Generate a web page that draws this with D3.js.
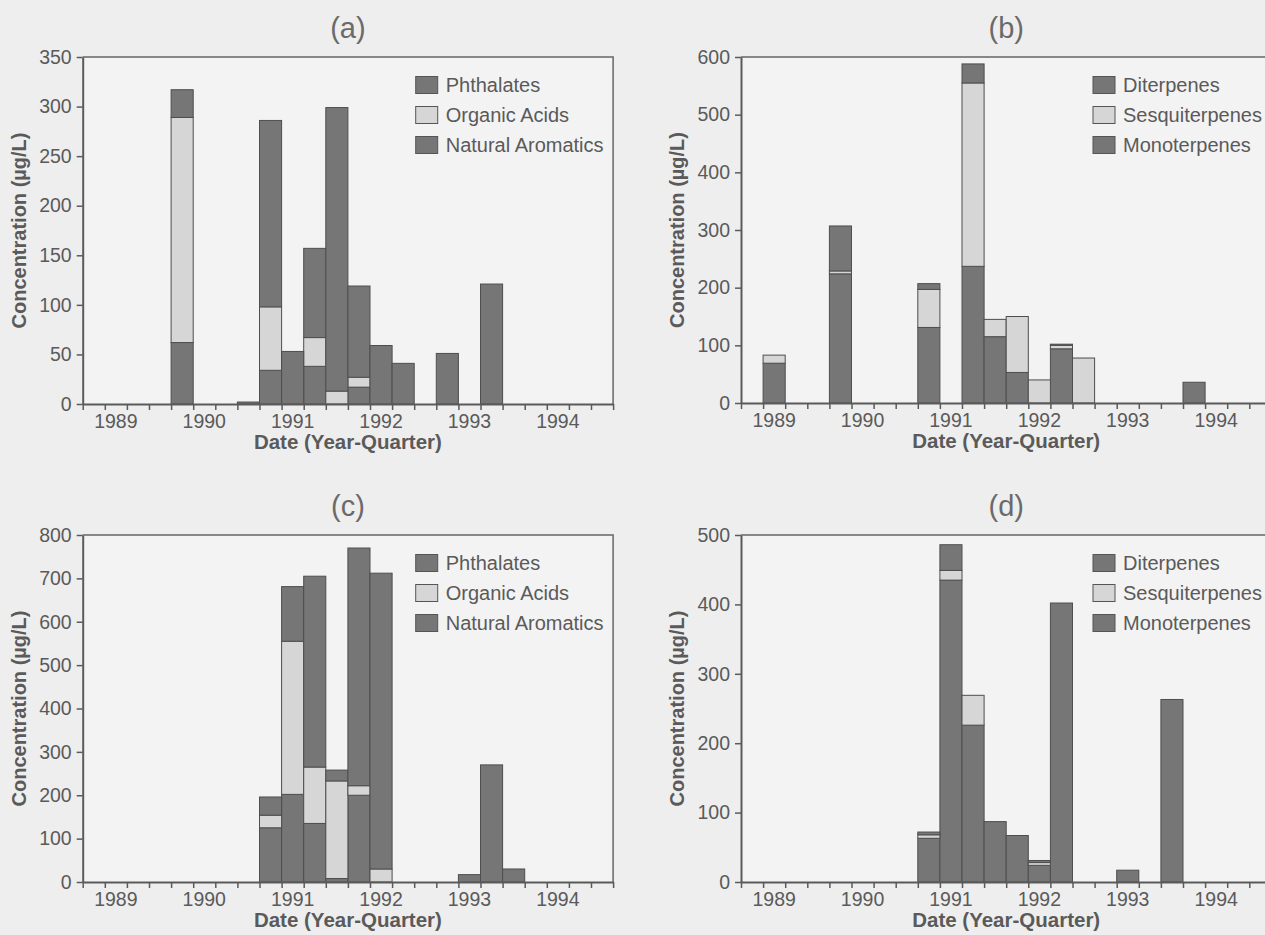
<!DOCTYPE html>
<html>
<head>
<meta charset="utf-8">
<script src="https://cdn.jsdelivr.net/npm/d3@7"></script>
<style>
  body { margin: 0; background: #eeeeee; }
  svg { display: block; font-family: "Liberation Sans", Arial, sans-serif; }
</style>
</head>
<body>
<div id="chart"></div>
<script>
// quarters on the x axis (one band each)
var quarters = [
  "1988 Q4",
  "1989 Q1", "1989 Q2", "1989 Q3", "1989 Q4",
  "1990 Q1", "1990 Q2", "1990 Q3", "1990 Q4",
  "1991 Q1", "1991 Q2", "1991 Q3", "1991 Q4",
  "1992 Q1", "1992 Q2", "1992 Q3", "1992 Q4",
  "1993 Q1", "1993 Q2", "1993 Q3", "1993 Q4",
  "1994 Q1", "1994 Q2", "1994 Q3"
];
var yearTicks = ["1989 Q1", "1990 Q1", "1991 Q1", "1992 Q1", "1993 Q1", "1994 Q1"];

var groupA = ["Phthalates", "Organic Acids", "Natural Aromatics"];
var groupB = ["Diterpenes", "Sesquiterpenes", "Monoterpenes"];

// (a)
var aNatural = [0,0,0,0,62,0,0,0,34,0,38,0,17,0,0,0,0,0,0,0,0,0,0,0];
var aOrganic = [0,0,0,0,227,0,0,0,64,0,29,13,10,0,0,0,0,0,0,0,0,0,0,0];
var aPhthal  = [0,0,0,0,28,0,0,2,188,53,90,286,92,59,41,0,51,0,121,0,0,0,0,0];
// (b)
var bMono = [0,69,0,0,224,0,0,0,131,0,237,115,53,0,94,0,0,0,0,0,36,0,0,0];
var bSesq = [0,14,0,0,5,0,0,0,66,0,318,30,97,40,6,78,0,0,0,0,0,0,0,0];
var bDi   = [0,0,0,0,78,0,0,0,10,0,33,0,0,0,2,0,0,0,0,0,0,0,0,0];
// (c)
var cNatural = [0,0,0,0,0,0,0,0,125,202,135,8,200,0,0,0,0,0,0,0,0,0,0,0];
var cOrganic = [0,0,0,0,0,0,0,0,29,353,130,225,22,30,0,0,0,0,0,0,0,0,0,0];
var cPhthal  = [0,0,0,0,0,0,0,0,42,126,440,25,548,682,0,0,0,17,270,30,0,0,0,0];
// (d)
var dMono = [0,0,0,0,0,0,0,0,63,435,226,87,67,24,402,0,0,17,0,263,0,0,0,0];
var dSesq = [0,0,0,0,0,0,0,0,5,14,43,0,0,4,0,0,0,0,0,0,0,0,0,0];
var dDi   = [0,0,0,0,0,0,0,0,4,37,0,0,0,3,0,0,0,0,0,0,0,0,0,0];

var dark = "#767676", light = "#d6d6d6", ink = "#5a5a5a";

var width = 1265, height = 935;
var svg = d3.select("#chart").append("svg")
  .attr("width", width)
  .attr("height", height);

var panels = [
  { label: "(a)", left: 82.7, top: 57, bottom: 404, yMax: 350, step: 50,
    names: groupA, values: [aPhthal, aOrganic, aNatural] },
  { label: "(b)", left: 741, top: 57, bottom: 403, yMax: 600, step: 100,
    names: groupB, values: [bDi, bSesq, bMono] },
  { label: "(c)", left: 82.7, top: 535, bottom: 882, yMax: 800, step: 100,
    names: groupA, values: [cPhthal, cOrganic, cNatural] },
  { label: "(d)", left: 741, top: 535, bottom: 882, yMax: 500, step: 100,
    names: groupB, values: [dDi, dSesq, dMono] }
];

var slotW = 22.1;
var colors = [dark, light, dark]; // top, middle, bottom (legend order)

panels.forEach(function(p) {
  var w = slotW * quarters.length;
  var h = p.bottom - p.top;
  var g = svg.append("g").attr("transform", `translate(${p.left},${p.top})`);

  var x = d3.scaleBand().domain(quarters).range([0, w]).padding(0);
  var xEdge = d3.scaleLinear().domain([0, quarters.length]).range([0, w]);
  var y = d3.scaleLinear().domain([0, p.yMax]).range([h, 0]);

  g.append("rect")
    .attr("width", w).attr("height", h)
    .attr("fill", "#f3f3f3");

  // stacked bars, bottom series first
  var keys = [p.names[2], p.names[1], p.names[0]];
  var rows = quarters.map(function(q, i) {
    var r = { q: q };
    r[p.names[0]] = p.values[0][i];
    r[p.names[1]] = p.values[1][i];
    r[p.names[2]] = p.values[2][i];
    return r;
  });
  var stacked = d3.stack().keys(keys)(rows);
  var fillOf = {};
  fillOf[p.names[0]] = colors[0];
  fillOf[p.names[1]] = colors[1];
  fillOf[p.names[2]] = colors[2];

  g.append("g")
    .selectAll("g")
    .data(stacked)
    .enter()
    .append("g")
    .attr("fill", d => fillOf[d.key])
    .selectAll("rect")
    .data(d => d.filter(s => s[1] - s[0] > 0))
    .enter()
    .append("rect")
    .attr("x", d => x(d.data.q))
    .attr("width", x.bandwidth())
    .attr("y", d => y(d[1]))
    .attr("height", d => y(d[0]) - y(d[1]))
    .attr("stroke", "#4e4e4e")
    .attr("stroke-width", 1);

  // frame top and right
  g.append("path")
    .attr("d", `M0,0H${w}V${h}`)
    .attr("fill", "none")
    .attr("stroke", "#666")
    .attr("stroke-width", 1.5);

  // left axis
  var ya = g.append("g")
    .call(d3.axisLeft(y)
      .tickValues(d3.range(0, p.yMax + 1, p.step))
      .tickSize(6).tickSizeOuter(0).tickPadding(5))
    .attr("font-family", null).attr("font-size", null);
  ya.selectAll("text").attr("font-size", 19.5).attr("fill", ink);
  ya.selectAll("line").attr("stroke", ink).attr("stroke-width", 1.5);
  ya.select(".domain").attr("stroke", ink).attr("stroke-width", 2);

  // quarter ticks on bottom
  var xa = g.append("g")
    .attr("transform", `translate(0,${h})`)
    .call(d3.axisBottom(xEdge)
      .tickValues(d3.range(0, quarters.length + 1))
      .tickFormat("")
      .tickSize(6).tickSizeOuter(0));
  xa.selectAll("line").attr("stroke", ink).attr("stroke-width", 1.5);
  xa.select(".domain").attr("stroke", ink).attr("stroke-width", 2);

  // year labels
  var yl = g.append("g")
    .attr("transform", `translate(0,${h})`)
    .call(d3.axisBottom(x)
      .tickValues(yearTicks)
      .tickFormat(d => d.slice(0, 4))
      .tickSize(0).tickPadding(10))
    .attr("font-family", null).attr("font-size", null);
  yl.select(".domain").remove();
  yl.selectAll("text").attr("font-size", 19.5).attr("fill", ink);

  // titles
  g.append("text")
    .attr("x", w / 2).attr("y", -19)
    .attr("text-anchor", "middle")
    .attr("font-size", 29)
    .attr("fill", "#6a6a6a")
    .text(p.label);

  g.append("text")
    .attr("x", w / 2).attr("y", h + 45)
    .attr("text-anchor", "middle")
    .attr("font-size", 20.5)
    .attr("font-weight", "bold")
    .attr("fill", ink)
    .text("Date (Year-Quarter)");

  g.append("text")
    .attr("transform", `translate(${-57},${h / 2}) rotate(-90)`)
    .attr("text-anchor", "middle")
    .attr("font-size", 20)
    .attr("font-weight", "bold")
    .attr("fill", ink)
    .text("Concentration (µg/L)");

  // legend
  var lg = g.append("g")
    .attr("transform", `translate(${p.left < 200 ? 333 : 352},28)`);
  p.names.forEach(function(name, i) {
    lg.append("rect")
      .attr("x", 0).attr("y", i * 30 - 8.5)
      .attr("width", 22).attr("height", 17)
      .attr("fill", colors[i])
      .attr("stroke", "#555");
    lg.append("text")
      .attr("x", 30).attr("y", i * 30 + 7)
      .attr("font-size", 20)
      .attr("fill", ink)
      .text(name);
  });
});
</script>
</body>
</html>
